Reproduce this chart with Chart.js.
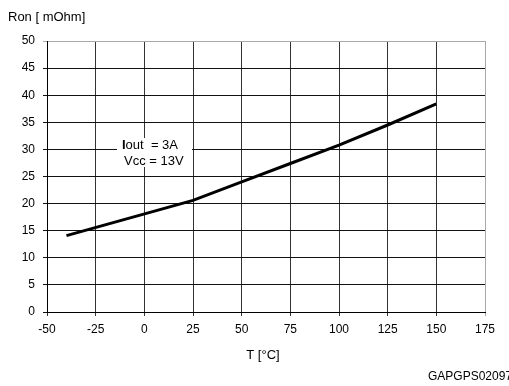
<!DOCTYPE html>
<html><head><meta charset="utf-8">
<script src="https://cdn.jsdelivr.net/npm/chart.js@4"></script>
<style>html,body{margin:0;padding:0;background:#fff}canvas{display:block}</style>
</head><body>
<canvas id="c" width="509" height="386"></canvas>
<script>
const temperatures = [-40, 25, 50, 75, 100, 125, 150];
const ronValues = [14.1, 20.6, 24.0, 27.4, 30.8, 34.5, 38.4];
const xTicks = [-50, -25, 0, 25, 50, 75, 100, 125, 150, 175];
const yTicks = [0, 5, 10, 15, 20, 25, 30, 35, 40, 45, 50];
const yTitle = 'Ron [ mOhm]';
const xTitle = 'T [°C]';
const footer = 'GAPGPS02097';
const noteLines = ['Iout  = 3A', 'Vcc = 13V'];

const FONT = '"Liberation Sans", Arial, sans-serif';

const textPlugin = {
  id: 'texts',
  beforeDatasetsDraw(chart) {
    const ctx = chart.ctx;
    ctx.save();
    ctx.fillStyle = '#fff';
    ctx.fillRect(117, 138, 75, 29);
    ctx.fillStyle = '#000';
    ctx.textBaseline = 'middle';
    ctx.textAlign = 'left';
    ctx.font = 'bold 13px ' + FONT;
    ctx.fillText('I', 122, 145);
    const wI = ctx.measureText('I').width;
    ctx.font = '13px ' + FONT;
    ctx.fillText(noteLines[0].slice(1), 122 + wI, 145);
    ctx.fillText(noteLines[1], 124, 161);
    ctx.restore();
  },
  afterDraw(chart) {
    const ctx = chart.ctx;
    ctx.save();
    ctx.fillStyle = '#000';
    ctx.font = '13px ' + FONT;
    ctx.textBaseline = 'middle';
    ctx.textAlign = 'left';
    ctx.fillText(yTitle, 8, 17);
    ctx.textAlign = 'center';
    ctx.fillText(xTitle, 263, 355);
    ctx.font = '12px ' + FONT;
    ctx.textAlign = 'left';
    ctx.fillText(footer, 428, 377);
    ctx.restore();
  }
};

new Chart(document.getElementById('c'), {
  type: 'scatter',
  data: {
    datasets: [{
      data: temperatures.map((t, i) => ({x: t, y: ronValues[i]})),
      showLine: true,
      borderColor: '#000',
      borderWidth: 3,
      pointRadius: 0,
      tension: 0,
      fill: false
    }]
  },
  options: {
    responsive: false,
    animation: false,
    devicePixelRatio: 1,
    layout: {padding: {left: 0, right: 24, top: 41, bottom: 0}},
    plugins: {legend: {display: false}, tooltip: {enabled: false}},
    scales: {
      x: {
        type: 'linear', min: xTicks[0], max: xTicks[xTicks.length - 1],
        afterBuildTicks(s) { s.ticks = xTicks.map(v => ({value: v})); },
        afterFit(s) { s.height = 74; },
        ticks: {color: '#000', font: {family: FONT, size: 12}, padding: 6, maxRotation: 0,
          callback: v => String(v)},
        grid: {
          color: c => c.index === xTicks.length - 1 ? '#a8a8a8' : '#333',
          lineWidth: 1, tickLength: 4, drawTicks: true
        },
        border: {color: '#000', width: 1}
      },
      y: {
        type: 'linear', min: yTicks[0], max: yTicks[yTicks.length - 1],
        afterBuildTicks(s) { s.ticks = yTicks.map(v => ({value: v})); },
        afterFit(s) { s.width = 47; },
        ticks: {color: '#000', font: {family: FONT, size: 12}, padding: 8,
          callback: v => String(v)},
        grid: {
          color: c => c.index === yTicks.length - 1 ? '#a8a8a8' : '#111',
          lineWidth: 1, tickLength: 4, drawTicks: true
        },
        border: {color: '#000', width: 1}
      }
    }
  },
  plugins: [textPlugin]
});
</script>
</body></html>
